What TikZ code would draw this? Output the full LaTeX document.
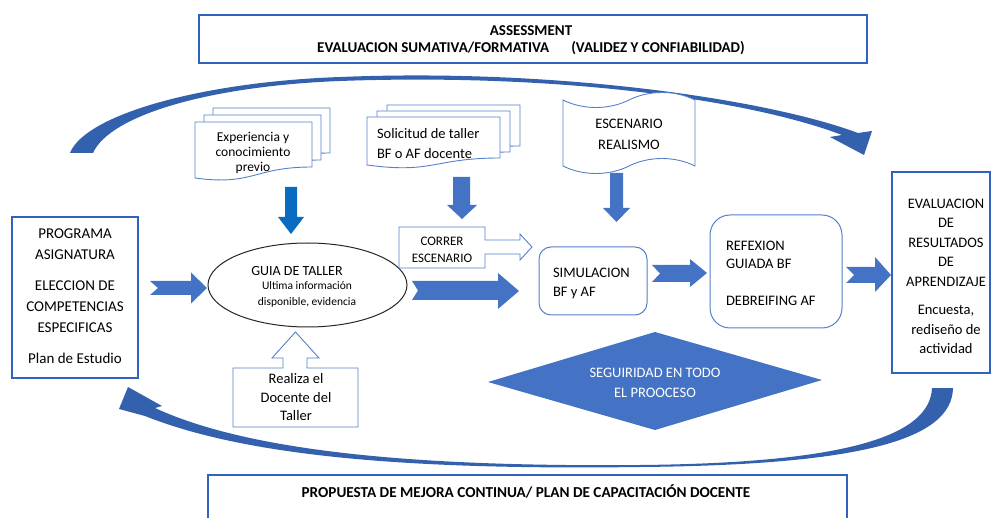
\documentclass[tikz,border=0pt]{standalone}
\usepackage{fontspec}
\setmainfont{Carlito}
\usetikzlibrary{shapes.geometric}
\definecolor{bblue}{HTML}{4472C4}
\definecolor{dblue}{HTML}{3163BE}
\definecolor{lblue}{HTML}{5580C9}
\definecolor{cblue}{HTML}{0A6CC0}
\definecolor{arcblue}{HTML}{3361AE}
\newcommand\docshape[6]{\path[thinline] (#1,#2) -- (#3,#2) -- (#3,#4) .. controls ({(#1+#3)/2},#4) and ({(#1+#3)/2},#5) .. (#1,#6) -- cycle;}
\begin{document}
\begin{tikzpicture}[x=1pt,y=-1pt,
  thickbox/.style={draw=dblue, line width=2.6pt, fill=white, inner sep=0pt},
  thinline/.style={draw=lblue, line width=0.9pt, fill=white},
  barrow/.style={fill=bblue},
  txt/.style={inner sep=0pt, outer sep=0pt, align=center, text=black},
  f15/.style={font=\fontsize{15}{21}\selectfont},
  f145/.style={font=\fontsize{14.5}{19.5}\selectfont}]
\useasboundingbox (0,0) rectangle (993,518);

% ---------- top box ----------
\node[thickbox, minimum width=668pt, minimum height=48pt] (assess) at (533,39) {};
\node[txt, font=\bfseries\fontsize{15}{17}\selectfont, anchor=north] (assesstxt) at (531,25.5)
  {ASSESSMENT\\EVALUACION SUMATIVA/FORMATIVA\hspace*{22pt}(VALIDEZ Y CONFIABILIDAD)};

% ---------- top arc ----------
\fill[arcblue] (70,153) .. controls (85,115) and (200,82) .. (340,77)
  .. controls (560,68) and (770,100) .. (858,133) -- (872,131) -- (864,155) -- (830,137) -- (842,135)
  .. controls (750,100) and (560,73) .. (340,81)
  .. controls (210,86) and (110,115) .. (93,153) -- cycle;

% ---------- bottom arc ----------
\fill[arcblue] (953,388) .. controls (952,440) and (860,465) .. (640,467)
  .. controls (420,470) and (250,458) .. (145,416) -- (119,409) -- (128,387) -- (162,406) -- (155,408)
  .. controls (250,452) and (420,467) .. (640,465)
  .. controls (850,463) and (930,435) .. (932,388) -- cycle;

% ---------- left box ----------
\node[thickbox, minimum width=126pt, minimum height=161pt] (prog) at (75,297.5) {};
\node[txt, f15, anchor=north] (progtxt) at (75,228.5)
  {PROGRAMA\\ASIGNATURA\\[10pt]ELECCION DE\\COMPETENCIAS\\ESPECIFICAS\\[10pt]Plan de Estudio};

% ---------- right box ----------
\node[thickbox, minimum width=98pt, minimum height=201pt] (evalr) at (941,272.5) {};
\node[txt, f145, anchor=north] (evaltxt) at (946,198.7)
  {EVALUACION\\DE\\RESULTADOS\\DE\\APRENDIZAJE\\[9pt]Encuesta,\\rediseño de\\actividad};

% ---------- bottom box ----------
\node[thickbox, minimum width=639pt, minimum height=60pt] (mejora) at (527.5,505) {};
\node[txt, font=\bfseries\fontsize{15.2}{17}\selectfont, anchor=base] (mejoratxt) at (526,497)
  {PROPUESTA DE MEJORA CONTINUA/ PLAN DE CAPACITACIÓN DOCENTE};

% ---------- document stacks ----------
\docshape{213}{108}{330}{153}{172}{164}
\docshape{204}{115}{321}{160}{179}{171}
\docshape{195}{122}{312}{167}{186}{178}
\node[txt, font=\fontsize{13.5}{15}\selectfont, anchor=north] (exptxt) at (253,132.3)
  {Experiencia y\\conocimiento\\previo};

\docshape{387}{105}{520}{146}{162}{153}
\docshape{377}{111}{510}{152}{168}{159}
\docshape{367}{117}{500}{158}{174}{165}
\node[txt, f145, align=left, anchor=north west] (soltxt) at (377,128.7)
  {Solicitud de taller\\BF o AF docente};

% ---------- escenario (wave) ----------
\path[thinline] (563,100) .. controls (583,110) and (609,110) .. (629,100)
  .. controls (649,90) and (675,90) .. (695,100) -- (695,166)
  .. controls (675,156) and (649,156) .. (629,166)
  .. controls (609,176) and (583,176) .. (563,166) -- cycle;
\node[txt, font=\fontsize{14.5}{21}\selectfont, anchor=north] (esctxt) at (629,118.7)
  {ESCENARIO\\REALISMO};

% ---------- down arrows ----------
\fill[cblue] (285,187) -- (297,187) -- (297,217) -- (304,217) -- (291,234) -- (278,217) -- (285,217) -- cycle;
\fill[bblue] (453,177) -- (470,177) -- (470,205) -- (477,205) -- (462,219) -- (447,205) -- (453,205) -- cycle;
\fill[bblue] (610,173) -- (623,173) -- (623,208) -- (630,208) -- (616.5,222) -- (603,208) -- (610,208) -- cycle;

% ---------- ellipse ----------
\node[ellipse, draw=black!85, line width=1pt, fill=white, minimum width=199pt, minimum height=84pt, inner sep=0pt] (guia) at (307.5,285) {};
\node[txt, font=\fontsize{14}{16}\selectfont, anchor=base] (guiatitle) at (297,276) {GUIA DE TALLER};
\node[txt, font=\fontsize{11.5}{16}\selectfont, anchor=north] (guiatext) at (307,281.5)
  {Ultima información\\disponible, evidencia};

% ---------- correr escenario callout ----------
\path[thinline] (399,227) -- (485,227) -- (485,240) -- (520,240) -- (520,234) -- (532,247)
  -- (520,260) -- (520,254) -- (485,254) -- (485,268) -- (399,268) -- cycle;
\node[txt, font=\fontsize{13}{17}\selectfont, anchor=north] (corrertxt) at (442,236.6)
  {CORRER\\ESCENARIO};

% ---------- realiza callout ----------
\path[thinline] (233,368) -- (283,368) -- (283,358) -- (272,358) -- (295.5,332) -- (319,358)
  -- (307,358) -- (307,368) -- (358,368) -- (358,427) -- (233,427) -- cycle;
\node[txt, font=\fontsize{14.5}{18.5}\selectfont, anchor=north] (realizatxt) at (296,373.7)
  {Realiza el\\Docente del\\Taller};

% ---------- horizontal block arrows ----------
\fill[bblue] (150,281) -- (191,281) -- (191,272.5) -- (207,288) -- (191,303.5) -- (191,295) -- (150,295) -- (158,288) -- cycle;
\fill[bblue] (412,281) -- (498,281) -- (498,273) -- (519,291) -- (498,309) -- (498,300) -- (412,300) -- (418,290.5) -- cycle;
\fill[bblue] (652,265) -- (690,265) -- (690,259) -- (707,273) -- (690,287) -- (690,282) -- (652,282) -- (660,273.5) -- cycle;
\fill[bblue] (846,267) -- (875,267) -- (875,257) -- (891,275) -- (875,292) -- (875,283) -- (846,283) -- (854,275) -- cycle;

% ---------- simulacion / refexion ----------
\node[draw=lblue, line width=1pt, fill=white, rounded corners=12pt, minimum width=108pt, minimum height=68pt, inner sep=0pt] (sim) at (593,281) {};
\node[txt, f145, align=left, anchor=north west] (simtxt) at (553,267.7) {SIMULACION\\BF y AF};

\node[draw=lblue, line width=1pt, fill=white, rounded corners=20pt, minimum width=132pt, minimum height=113pt, inner sep=0pt] (refl) at (776,271.5) {};
\node[txt, font=\fontsize{14.5}{18.5}\selectfont, align=left, anchor=north west] (refltxt) at (726,240.7)
  {REFEXION\\GUIADA BF\\[18pt]DEBREIFING AF};

% ---------- diamond ----------
\fill[bblue] (488,382) -- (655,332) -- (822,380) -- (655,430) -- cycle;
\node[txt, font=\fontsize{14.5}{20}\selectfont, text=white, anchor=north] (segtxt) at (655,367.7)
  {SEGUIRIDAD EN TODO\\EL PROOCESO};
\end{tikzpicture}
\end{document}
